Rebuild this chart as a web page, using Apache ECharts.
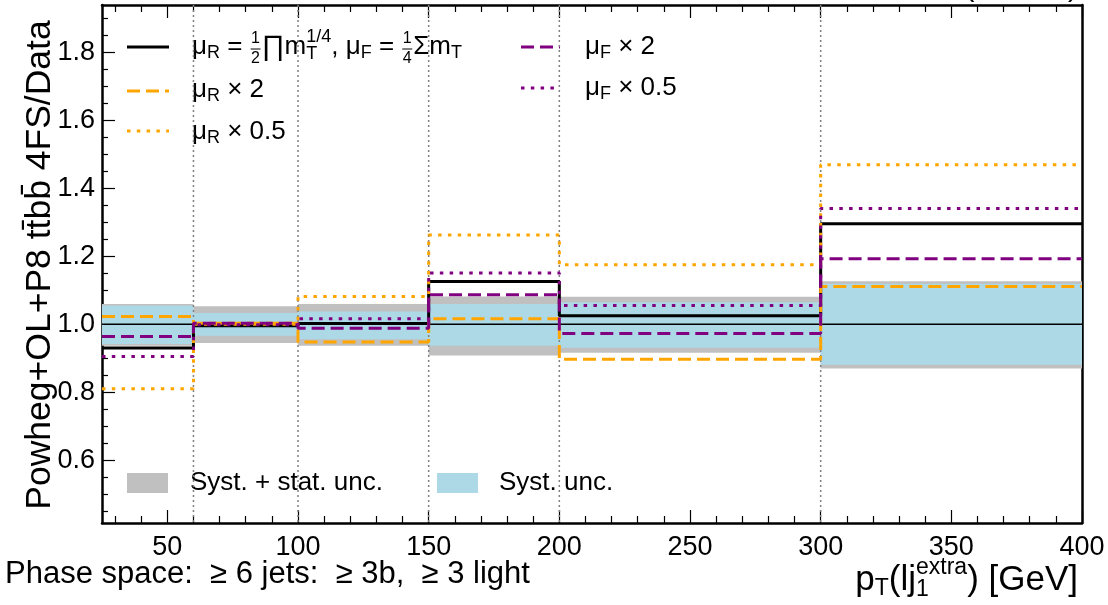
<!DOCTYPE html>
<html><head><meta charset="utf-8">
<script src="https://cdn.jsdelivr.net/npm/echarts@6/dist/echarts.min.js"></script>
<style>html,body{margin:0;padding:0;background:#fff}#c{width:1108px;height:605px}</style>
</head><body><div id="c"></div>
<script>
// ---- data ----
const binEdges = [25, 60, 100, 150, 200, 300, 400];
const nominal = [0.930, 0.996, 1.002, 1.126, 1.025, 1.296];
const muR2    = [1.023, 1.003, 0.948, 1.016, 0.897, 1.111];
const muR05   = [0.810, 1.000, 1.082, 1.263, 1.175, 1.470];
const muF2    = [0.964, 1.003, 0.988, 1.087, 0.973, 1.193];
const muF05   = [0.905, 0.999, 1.016, 1.151, 1.055, 1.341];
const totLow   = [0.937, 0.945, 0.937, 0.908, 0.916, 0.870];
const totHigh  = [1.060, 1.053, 1.060, 1.082, 1.081, 1.127];
const systLow  = [0.942, 0.966, 0.956, 0.937, 0.931, 0.881];
const systHigh = [1.055, 1.033, 1.038, 1.060, 1.065, 1.119];
const xTickLabels = [50, 100, 150, 200, 250, 300, 350, 400];
const yTickLabels = [0.6, 0.8, 1.0, 1.2, 1.4, 1.6, 1.8];
const boundaryLines = [60, 100, 150, 200, 300];

const xMinor = [];
for (let v = 30; v < 400; v += 10) if (v % 50 !== 0) xMinor.push(v);
const yMinor = [];
for (let k = 9; k <= 38; k++) if (k % 4 !== 0) yMinor.push(Math.round(k * 5) / 100);

const FONT = 'Liberation Sans';
const ORANGE = '#ffa500', PURPLE = '#800080';

// ---- helpers ----
const mctx = document.createElement('canvas').getContext('2d');
function tw(t, s) { mctx.font = s + 'px "' + FONT + '"'; return mctx.measureText(t).width; }
function txt(t, s, x, y, align) {
  return { type: 'text', x: x, y: y, silent: true,
    style: { text: t, fontSize: s, fontFamily: FONT, fill: '#000', align: align || 'left', verticalAlign: 'middle' } };
}
function composite(parts, x, ym, align) {
  const widths = parts.map(p => {
    if (p.stack) return Math.max(...p.stack.map(q => tw(q.t, q.s)));
    if (p.frac) return Math.max(tw(p.frac[0], p.s), tw(p.frac[1], p.s)) + 3;
    return tw(p.t, p.s);
  });
  const total = widths.reduce((a, b) => a + b, 0);
  let cx = align === 'right' ? x - total : x;
  const els = [];
  parts.forEach((p, i) => {
    if (p.stack) p.stack.forEach(q => els.push(txt(q.t, q.s, cx, ym + (q.dy || 0))));
    else if (p.frac) {
      const w = widths[i];
      els.push(txt(p.frac[0], p.s, cx + w / 2, ym - p.s * 0.5, 'center'));
      els.push(txt(p.frac[1], p.s, cx + w / 2, ym + p.s * 0.75, 'center'));
      els.push({ type: 'line', silent: true, shape: { x1: cx + 1, y1: ym + 2, x2: cx + w - 1, y2: ym + 2 }, style: { stroke: '#000', lineWidth: 1 } });
    } else els.push(txt(p.t, p.s, cx, ym + (p.dy || 0)));
    cx += widths[i];
  });
  return els;
}
function stepData(vals) { return binEdges.map((e, i) => [e, vals[Math.min(i, vals.length - 1)]]); }
function bandData(lo, hi) { return lo.map((l, i) => [binEdges[i], binEdges[i + 1], l, hi[i]]); }
function bandSeries(name, lo, hi, color, z) {
  return { type: 'custom', name: name, clip: true, silent: true, z: z,
    encode: { x: [0, 1], y: [2, 3] }, data: bandData(lo, hi),
    renderItem: (params, api) => {
      const p0 = api.coord([api.value(0), api.value(3)]);
      const p1 = api.coord([api.value(1), api.value(2)]);
      return { type: 'rect', shape: { x: p0[0], y: p0[1], width: p1[0] - p0[0], height: p1[1] - p0[1] }, style: { fill: color } };
    } };
}
function stepSeries(name, vals, color, dash, width) {
  return { type: 'line', name: name, step: 'end', data: stepData(vals), symbol: 'none', z: 5,
    lineStyle: { color: color, width: width, type: dash, cap: 'butt' } };
}

// ---- axes ----
const AL = { color: '#000', width: 2.5 };
const TL = { color: '#000', width: 1.2 };
function xAx(pos, ticks, len, labels, line) {
  return { type: 'value', min: 25, max: 400, position: pos,
    axisLine: { show: line, onZero: false, lineStyle: AL },
    axisTick: { show: true, inside: true, length: len, customValues: ticks, lineStyle: TL },
    axisLabel: labels ? { show: true, customValues: xTickLabels, fontSize: 27, fontFamily: FONT, color: '#000', margin: 11 } : { show: false },
    splitLine: { show: false } };
}
function yAx(pos, ticks, len, labels, line) {
  return { type: 'value', min: 0.415, max: 1.94, position: pos,
    axisLine: { show: line, onZero: false, lineStyle: AL },
    axisTick: ticks ? { show: true, inside: true, length: len, customValues: ticks, lineStyle: TL } : { show: false },
    axisLabel: labels ? { show: true, customValues: yTickLabels, formatter: v => v.toFixed(1), fontSize: 27, fontFamily: FONT, color: '#000', margin: 7 } : { show: false },
    splitLine: { show: false } };
}

// ---- graphic (legend, titles) ----
const g = [];
// legend column 1
g.push({ type: 'line', silent: true, shape: { x1: 127, y1: 47, x2: 169, y2: 47 }, style: { stroke: '#000', lineWidth: 3 } });
g.push(...composite([
  { t: 'μ', s: 26 }, { t: 'R', s: 18, dy: 6 }, { t: ' = ', s: 26 }, { frac: ['1', '2'], s: 16 },
  { t: '∏', s: 28 }, { t: 'm', s: 26 }, { stack: [{ t: '1/4', s: 18, dy: -10 }, { t: 'T', s: 18, dy: 7 }] },
  { t: ', μ', s: 26 }, { t: 'F', s: 18, dy: 6 }, { t: ' = ', s: 26 }, { frac: ['1', '4'], s: 16 },
  { t: 'Σ', s: 26 }, { t: 'm', s: 26 }, { t: 'T', s: 18, dy: 6 }
], 192, 47));
g.push({ type: 'line', silent: true, shape: { x1: 127, y1: 91, x2: 169, y2: 91 }, style: { stroke: ORANGE, lineWidth: 3, lineDash: [13, 6] } });
g.push(...composite([{ t: 'μ', s: 26 }, { t: 'R', s: 18, dy: 6 }, { t: ' × 2', s: 26 }], 192, 90));
g.push({ type: 'line', silent: true, shape: { x1: 127, y1: 131, x2: 169, y2: 131 }, style: { stroke: ORANGE, lineWidth: 3, lineDash: [3.5, 6.3] } });
g.push(...composite([{ t: 'μ', s: 26 }, { t: 'R', s: 18, dy: 6 }, { t: ' × 0.5', s: 26 }], 192, 132));
// legend column 2
g.push({ type: 'line', silent: true, shape: { x1: 521, y1: 47, x2: 560, y2: 47 }, style: { stroke: PURPLE, lineWidth: 3, lineDash: [13, 6] } });
g.push(...composite([{ t: 'μ', s: 26 }, { t: 'F', s: 18, dy: 6 }, { t: ' × 2', s: 26 }], 585, 47));
g.push({ type: 'line', silent: true, shape: { x1: 521, y1: 88, x2: 560, y2: 88 }, style: { stroke: PURPLE, lineWidth: 3, lineDash: [3.5, 6.3] } });
g.push(...composite([{ t: 'μ', s: 26 }, { t: 'F', s: 18, dy: 6 }, { t: ' × 0.5', s: 26 }], 585, 88));
// bottom legend
g.push({ type: 'rect', silent: true, shape: { x: 127, y: 473, width: 41, height: 20 }, style: { fill: '#c0c0c0' } });
g.push(txt('Syst. + stat. unc.', 26, 190, 483));
g.push({ type: 'rect', silent: true, shape: { x: 437, y: 473, width: 41, height: 20 }, style: { fill: '#add8e6' } });
g.push(txt('Syst. unc.', 26, 499, 483));
// y title
g.push({ type: 'text', x: 40, y: 265, rotation: Math.PI / 2, silent: true,
  style: { text: 'Powheg+OL+P8 tt\u0304bb\u0304 4FS/Data', fontSize: 35.5, fontFamily: FONT, fill: '#000', align: 'center', verticalAlign: 'middle' } });
// phase space
g.push(txt('Phase space:  ≥ 6 jets:  ≥ 3b,  ≥ 3 light', 31, 5, 574));
// x title
g.push(...composite([
  { t: 'p', s: 35 }, { t: 'T', s: 23, dy: 9 }, { t: '(lj', s: 35 },
  { stack: [{ t: 'extra', s: 23, dy: -12 }, { t: '1', s: 23, dy: 10 }] }, { t: ') [GeV]', s: 35 }
], 1078, 580, 'right'));
// clipped top-right text
g.push({ type: 'text', x: 1078, y: -12, silent: true,
  style: { text: '(13 TeV)', fontSize: 30, fontFamily: FONT, fill: '#000', align: 'right', verticalAlign: 'middle' } });

const option = {
  animation: false,
  backgroundColor: '#fff',
  grid: { left: 102, right: 26, top: 5, bottom: 82, containLabel: false },
  xAxis: [
    xAx('bottom', xTickLabels, 13, true, true),
    xAx('bottom', xMinor, 7, false, false),
    xAx('top', xTickLabels, 13, false, true),
    xAx('top', xMinor, 7, false, false)
  ],
  yAxis: [
    yAx('left', yTickLabels, 13, true, true),
    yAx('left', yMinor, 6, false, false),
    yAx('right', null, 0, false, true)
  ],
  series: [
    bandSeries('Syst. + stat. unc.', totLow, totHigh, '#c0c0c0', 1),
    bandSeries('Syst. unc.', systLow, systHigh, '#add8e6', 2),
    { type: 'custom', name: 'bounds', silent: true, z: 3, encode: { x: 0, y: 1 },
      data: boundaryLines.map(b => [b, 1]),
      renderItem: (params, api) => {
        const cs = params.coordSys; const p = api.coord([api.value(0), api.value(1)]);
        return { type: 'line', shape: { x1: p[0], y1: cs.y, x2: p[0], y2: cs.y + cs.height }, style: { stroke: '#808080', lineWidth: 1.5, lineDash: [2, 3] } };
      } },
    { type: 'custom', name: 'unity', silent: true, z: 3, encode: { x: 0, y: 1 },
      data: [[25, 1]],
      renderItem: (params, api) => {
        const cs = params.coordSys; const p = api.coord([api.value(0), api.value(1)]);
        return { type: 'line', shape: { x1: cs.x, y1: p[1], x2: cs.x + cs.width, y2: p[1] }, style: { stroke: '#000', lineWidth: 1.5 } };
      } },
    stepSeries('nominal', nominal, '#000', 'solid', 3),
    stepSeries('muR x 2', muR2, ORANGE, [13, 6], 3),
    stepSeries('muR x 0.5', muR05, ORANGE, [3.5, 6.3], 3),
    stepSeries('muF x 2', muF2, PURPLE, [13, 6], 3),
    stepSeries('muF x 0.5', muF05, PURPLE, [3.5, 6.3], 3)
  ],
  graphic: g
};
const chart = echarts.init(document.getElementById('c'), null, { renderer: 'canvas' });
chart.setOption(option);
</script></body></html>
